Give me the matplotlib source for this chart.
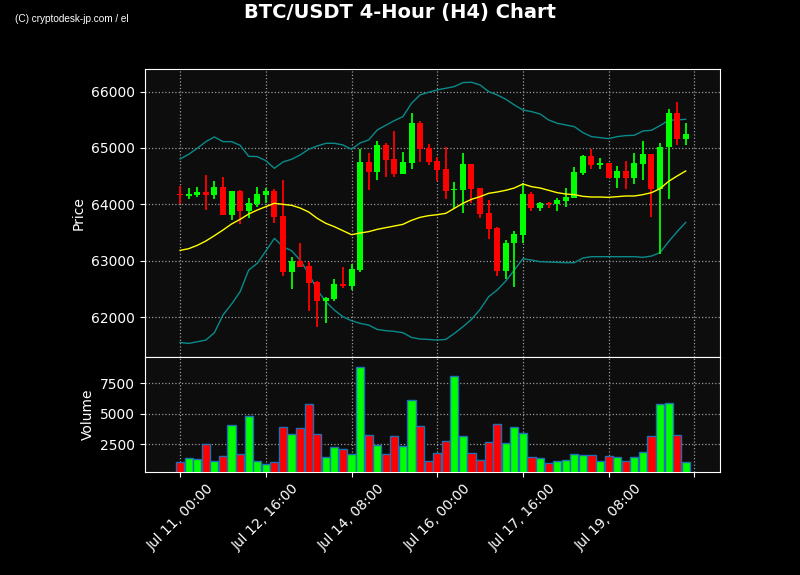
"""
BTC/USDT 4-hour candles with SMA, Bollinger bands and volume.
"""
import numpy as np
import pandas as pd
import matplotlib
matplotlib.use("Agg")
import matplotlib.pyplot as plt


opens = [64183, 64154, 64166, 64219, 64166, 64308, 63811, 64237, 63882, 64006,
         64166, 64237, 63793, 62804, 62994, 62905, 62621, 62289, 62319, 62585,
         62550, 62834, 64758, 64580, 65054, 64805, 64545, 64740, 65444, 65006,
         64770, 64628, 64249, 64260, 64716, 64290, 63846, 63580, 62822, 63313,
         63461, 64183, 63941, 64018, 64006, 64065, 64118, 64562, 64858, 64699,
         64734, 64474, 64592, 64474, 64722, 64894, 64272, 65012, 65622, 65154]
highs = [64332, 64284, 64302, 64521, 64414, 64480, 64237, 64255, 64112, 64308,
         64284, 64266, 64432, 63071, 63319, 62982, 62638, 62354, 62674, 62881,
         62940, 64977, 64906, 65125, 65083, 65302, 64924, 65616, 65480, 65072,
         64847, 65012, 64391, 64906, 64716, 64290, 64077, 63592, 63367, 63520,
         64373, 64225, 64036, 64036, 64107, 64284, 64669, 64876, 64977, 64817,
         64734, 64681, 64770, 64906, 65119, 64894, 65083, 65687, 65817, 65450]
lows = [64006, 64089, 64136, 63905, 64089, 63811, 63716, 63645, 63763, 63959,
        64018, 63674, 62733, 62502, 62893, 62106, 61827, 61887, 62283, 62520,
        62479, 62792, 64249, 64432, 64491, 64491, 64545, 64622, 64746, 64693,
        64414, 64089, 63917, 63840, 64018, 63757, 63378, 62727, 62674, 62538,
        63319, 63888, 63888, 63929, 63888, 63959, 64118, 64521, 64622, 64622,
        64474, 64296, 64278, 64355, 64432, 63769, 63118, 64095, 65054, 65054]
closes = [64160, 64183, 64219, 64166, 64308, 63811, 64237, 63882, 64018, 64183,
          64237, 63781, 62804, 62994, 62893, 62609, 62289, 62336, 62585, 62550,
          62851, 64758, 64580, 65054, 64787, 64545, 64746, 65444, 64983, 64758,
          64616, 64243, 64272, 64716, 64278, 63834, 63562, 62822, 63313, 63473,
          64183, 63941, 64018, 64006, 64077, 64130, 64574, 64858, 64699, 64734,
          64474, 64592, 64474, 64734, 64894, 64272, 65012, 65622, 65154, 65249]
volumes = [1080, 1408, 1326, 2500, 1162, 1517, 4056, 1681, 4793, 1162,
           862, 1080, 3892, 3319, 3810, 5831, 3319, 1435, 2254, 2090,
           1681, 8806, 3237, 2445, 1681, 3155, 2336, 6104, 3974, 1108,
           1763, 2746, 8069, 3155, 1763, 1190, 2664, 4138, 2582, 3892,
           3401, 1435, 1353, 944, 1108, 1190, 1681, 1599, 1599, 1108,
           1517, 1435, 1108, 1435, 1845, 3155, 5776, 5858, 3237, 1026]
sma = [63183, 63213, 63272, 63349, 63444, 63544, 63651, 63734, 63828, 63899,
       63959, 64018, 64000, 63982, 63935, 63864, 63751, 63663, 63603, 63532,
       63461, 63491, 63515, 63556, 63586, 63615, 63645, 63716, 63769, 63799,
       63816, 63840, 63929, 64018, 64089, 64136, 64195, 64219, 64249, 64290,
       64361, 64314, 64290, 64249, 64207, 64183, 64172, 64142, 64130, 64130,
       64124, 64136, 64148, 64148, 64172, 64207, 64278, 64408, 64503, 64592]
upper = [64805, 64888, 64995, 65113, 65196, 65113, 65113, 65048, 64852, 64847,
         64775, 64639, 64752, 64799, 64876, 64977, 65036, 65083, 65083, 65054,
         64977, 65089, 65143, 65320, 65403, 65486, 65557, 65794, 65942, 65989,
         66031, 66060, 66090, 66161, 66167, 66119, 66001, 65942, 65865, 65764,
         65675, 65646, 65604, 65498, 65439, 65409, 65379, 65273, 65202, 65184,
         65166, 65202, 65220, 65225, 65302, 65314, 65397, 65492, 65498, 65510]
lower = [61549, 61531, 61561, 61591, 61721, 62035, 62230, 62449, 62834, 62953,
         63171, 63396, 63248, 63177, 63011, 62774, 62479, 62271, 62123, 62005,
         61934, 61887, 61857, 61780, 61757, 61745, 61721, 61638, 61609, 61602,
         61591, 61602, 61709, 61827, 61958, 62135, 62360, 62479, 62638, 62834,
         63035, 63011, 62982, 62976, 62970, 62964, 62964, 63047, 63071, 63071,
         63071, 63071, 63071, 63071, 63059, 63082, 63142, 63337, 63515, 63680]

start = "2024-07-11 00:00"
tick_every = 10


def main():
    n = len(closes)
    x = np.arange(n)
    o = np.array(opens)
    c = np.array(closes)
    up = c >= o
    colors = np.where(up, "#00ff00", "#ff0000")

    dates = pd.date_range(start, periods=n + 1, freq="4h")
    ticks = list(range(0, n + 1, tick_every))
    labels = [dates[t].strftime("%b %d, %H:%M") if t < n else "" for t in ticks]

    fig = plt.figure(figsize=(8, 5.75), dpi=100, facecolor="black")
    ax = fig.add_axes([0.18125, 0.379, 0.71875, 0.501])
    axv = fig.add_axes([0.18125, 0.179, 0.71875, 0.2], sharex=ax)

    for a in (ax, axv):
        a.set_facecolor("#0d0d0d")
        for s in a.spines.values():
            s.set_color("white")
        a.tick_params(colors="white", labelsize=10)
        a.grid(True, color="#999999", linestyle=":", linewidth=0.9)
        a.set_axisbelow(True)

    # candles
    ax.vlines(x, lows, highs, colors=colors, linewidth=1.3, zorder=3)
    body = np.maximum(np.abs(c - o), 8)
    ax.bar(x, body, bottom=np.minimum(o, c), width=0.7, color=colors, zorder=4)

    ax.plot(x, sma, color="yellow", linewidth=1.0, zorder=5)
    ax.plot(x, upper, color="#0a8a8a", linewidth=1.0, zorder=2)
    ax.plot(x, lower, color="#0a8a8a", linewidth=1.0, zorder=2)

    ax.set_ylim(61289, 66402)
    ax.set_yticks([62000, 63000, 64000, 65000, 66000])
    ax.set_ylabel("Price", color="white", fontsize=10)
    ax.tick_params(axis="x", labelbottom=False, length=0)

    axv.bar(x, volumes, width=0.95, color=colors, edgecolor="#1f6fb4",
            linewidth=1.0, zorder=3)
    axv.set_ylim(235, 9625)
    axv.set_yticks([2500, 5000, 7500])
    axv.set_ylabel("Volume", color="white", fontsize=10)

    axv.set_xlim(-4.1, 63.0)
    axv.set_xticks(ticks)
    axv.set_xticklabels(labels, rotation=45)

    fig.suptitle("BTC/USDT 4-Hour (H4) Chart", color="white", fontsize=14,
                 fontweight="bold", y=0.995)
    fig.text(0.019, 0.961, "(C) cryptodesk-jp.com / el", color="white",
             fontsize=7.2, family="Liberation Sans")

    fig.savefig("out.png", dpi=100, facecolor="black")


if __name__ == "__main__":
    main()
